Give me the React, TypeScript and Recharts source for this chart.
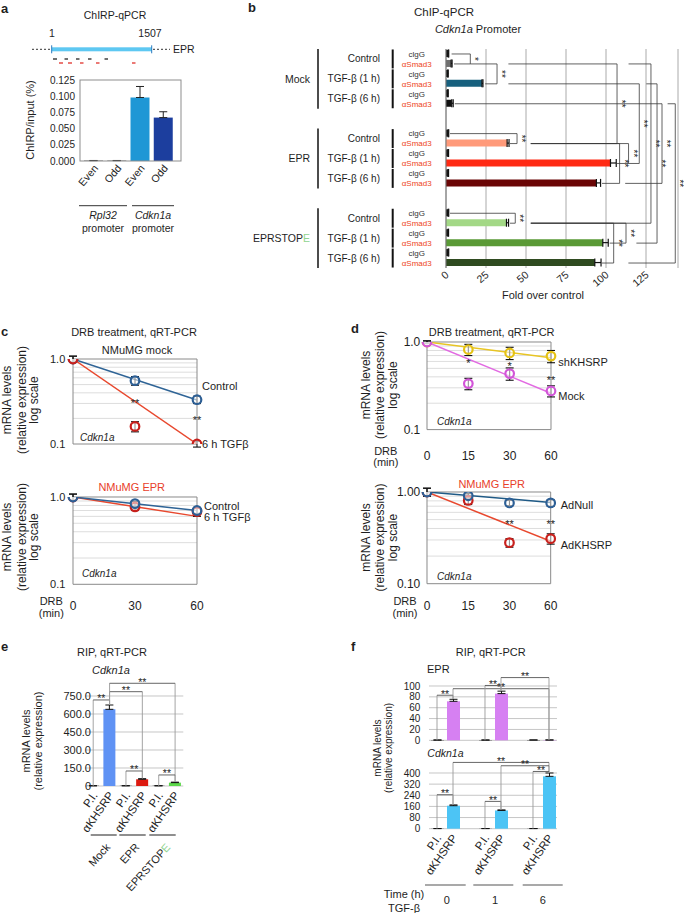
import React from "react";
import {
  Bar,
  BarChart,
  CartesianGrid,
  Cell,
  ComposedChart,
  ErrorBar,
  Line,
  ReferenceDot,
  ReferenceLine,
  XAxis,
  YAxis,
} from "recharts";

const FONT = '"Liberation Sans", Arial, Helvetica, sans-serif';
const INK = "#1e1e1e";

// ---------- a: ChIRP-qPCR ----------
const aIds = ["rplEven", "rplOdd", "cdkEven", "cdkOdd"];
const aLabels = ["Even", "Odd", "Even", "Odd"];
const aValues = [0.0005, 0.0005, 0.098, 0.067];
const aErrors = [0.0003, 0.0003, 0.017, 0.009];
const aColors = ["#222222", "#222222", "#1e97d5", "#1c3e9e"];
const aTicks = [0, 0.025, 0.05, 0.075, 0.1, 0.125];

// ---------- b: ChIP-qPCR, Cdkn1a promoter ----------
const bGroups = ["Mock", "EPR", "EPRSTOPE"];
const bConditions = ["Control", "TGF-β (1 h)", "TGF-β (6 h)"];
const bIgG = [1.3, 1.0, 1.0, 1.3, 1.2, 1.2, 1.3, 1.2, 1.3];
const bSmad3 = [3.2, 22.5, 3.6, 38.2, 102.8, 94.0, 37.8, 98.0, 93.0];
const bSmad3Err = [0.6, 0.6, 0.9, 1.2, 3.6, 2.6, 1.3, 3.4, 3.9];
const bSmad3Colors = [
  "#707070", "#17607e", "#111111",
  "#ff9a7a", "#ff2a14", "#6a0505",
  "#a3d886", "#5a9a36", "#2f4b20",
];
const bTicks = [0, 25, 50, 75, 100, 125];
// [row from, row to, x of vertical, x start on "from" row, x start on "to" row, label]
const bBrackets: [string, string, number, number, number, string][] = [
  ["00i", "00s", 15.2, 3.5, 5, "*"],
  ["00s", "01s", 31.9, 15.2, 24.5, "**"],
  ["00s", "10s", 106.9, 39, 53, "**"],
  ["00s", "20s", 128.1, 114.1, 53, "**"],
  ["01s", "11s", 120.8, 39, 114, "**"],
  ["01s", "21s", 131.9, 125.2, 119, "**"],
  ["02s", "12s", 135, 5.5, 112, "**"],
  ["02s", "22s", 143.3, 138.5, 114, "**"],
  ["10i", "10s", 44.4, 2.5, 40, "**"],
  ["10s", "11s", 114.1, 53, 106.9, "**"],
  ["10s", "12s", 108.5, 53, 97.5, "**"],
  ["20i", "20s", 43.3, 2.5, 40, "**"],
  ["20s", "21s", 112.5, 53, 102.3, "**"],
  ["20s", "22s", 104.8, 53, 97.5, "**"],
];

// ---------- c: DRB chase, NMuMG ----------
const cTimes = [0, 30, 60];
const cFitTimes = [0, 60];
const cMockControl = [1.0, 0.556, 0.332];
const cMockControlErr = [0.08, 0.065, 0.033];
const cMockTgf = [1.0, 0.161, 0.1];
const cMockTgfErr = [0.08, 0.022, 0.008];
const cMockFitControl = [1.0, 0.33];
const cMockFitTgf = [1.0, 0.1];
const cEprControl = [1.0, 0.84, 0.7];
const cEprControlErr = [0.08, 0.05, 0.05];
const cEprTgf = [1.0, 0.77, 0.68];
const cEprTgfErr = [0.08, 0.07, 0.08];
const cEprFitControl = [1.0, 0.7];
const cEprFitTgf = [1.0, 0.6];

// ---------- d: DRB chase, shKHSRP / AdKHSRP ----------
const dTimes = ["0", "15", "30", "60"];
const dIdx = [0, 1, 2, 3];
const dFitIdx = [0, 3];
const dShK = [1.0, 0.82, 0.75, 0.69];
const dShKErr = [0.03, 0.12, 0.12, 0.11];
const dMock = [1.0, 0.335, 0.436, 0.276];
const dMockErr = [0.03, 0.05, 0.07, 0.04];
const dFitShK = [1.0, 0.66];
const dFitMock = [1.0, 0.26];
const dAdNull = [1.0, 0.91, 0.76, 0.76];
const dAdNullErr = [0.1, 0.05, 0.05, 0.06];
const dAdK = [1.0, 0.81, 0.28, 0.31];
const dAdKErr = [0.1, 0.08, 0.03, 0.04];
const dFitAdNull = [1.0, 0.77];
const dFitAdK = [1.0, 0.29];

// ---------- e: RIP Cdkn1a ----------
const eIds = ["mPI", "mK", "ePI", "eK", "sPI", "sK"];
const eLabels = ["P.I.", "αKHSRP", "P.I.", "αKHSRP", "P.I.", "αKHSRP"];
const eValues = [2, 639, 2, 56, 2, 28];
const eErrors = [0, 36, 0, 5, 0, 4];
const eColors = ["#1a1a1a", "#5f92f4", "#1a1a1a", "#dd1a10", "#1a1a1a", "#5cd84a"];
const eTicks = [0, 150, 300, 450, 600, 750];
const eBrackets: [string, string, number, number, number][] = [
  ["mPI", "mK", 717, 0, 675],
  ["mK", "eK", 786, 675, 64],
  ["mK", "sK", 856, 675, 36],
  ["ePI", "eK", 125, 0, 62],
  ["sPI", "sK", 92, 0, 34],
];

// ---------- f: RIP time course ----------
const fIds = ["p0", "k0", "g1", "p1", "k1", "g2", "p6", "k6"];
const fLabels = ["P.I.", "αKHSRP", "", "P.I.", "αKHSRP", "", "P.I.", "αKHSRP"];
const fEprValues = [0.5, 71.8, null, 0.5, 86, null, 0.6, 0.6];
const fEprErrors = [0, 3.7, null, 0, 4.5, null, 0, 0];
const fCdkValues = [1, 165, null, 1, 131, null, 1, 376];
const fCdkErrors = [0, 6, null, 0, 4, null, 0, 24];
const fEprTicks = [0, 20, 40, 60, 80, 100];
const fCdkTicks = [0, 80, 160, 240, 320, 400];
const fEprBrackets: [string, string, number, number, number][] = [
  ["p0", "k0", 83, 0, 76],
  ["k0", "k6", 95, 76, 1],
  ["p1", "k1", 101, 0, 91],
  ["k1", "k6", 115.5, 91, 1],
];
const fCdkBrackets: [string, string, number, number, number][] = [
  ["p0", "k0", 244, 0, 171],
  ["k0", "k6", 476, 171, 402],
  ["p1", "k1", 196, 0, 136],
  ["k1", "k6", 452, 136, 402],
  ["p6", "k6", 411, 0, 402],
];

const logMinor = [0.2, 0.3, 0.4, 0.5, 0.6, 0.7, 0.8, 0.9];

// ---------- shared bits ----------
function angledTick(ids: string[], labels: string[], angle: number, fontSize: number, dx: number) {
  return (props: any) => {
    const { x, y, payload } = props;
    const i = ids.indexOf(String(payload.value));
    const text = i >= 0 ? labels[i] : "";
    return (
      <text
        transform={`translate(${x + dx},${y}) rotate(${angle})`}
        textAnchor="end"
        dominantBaseline="central"
        fontSize={fontSize}
        fill={INK}
      >
        {text}
      </text>
    );
  };
}

function numAngledTick(angle: number, fontSize: number) {
  return (props: any) => {
    const { x, y, payload } = props;
    return (
      <text
        transform={`translate(${x + 1},${y}) rotate(${angle})`}
        textAnchor="end"
        dominantBaseline="central"
        fontSize={fontSize}
        fill={INK}
      >
        {payload.value}
      </text>
    );
  };
}

function centerTick(labels: (v: number) => string, fontSize: number) {
  return (props: any) => {
    const { x, y, payload } = props;
    return (
      <text x={x} y={y} dy="0.35em" textAnchor="middle" fontSize={fontSize} fill={INK}>
        {labels(Number(payload.value))}
      </text>
    );
  };
}

// asterisks sit high in the glyph box, so baselines are pushed down a little
const sideStar = (text: string) => (props: any) => {
  const vb = props.viewBox || {};
  const x = (vb.x || 0) + (vb.width || 0) + 1;
  const y = (vb.y || 0) + (vb.height || 0) / 2;
  return (
    <text
      x={x}
      y={y}
      transform={`rotate(90 ${x} ${y})`}
      textAnchor="middle"
      fontSize={10}
      fill={INK}
    >
      {text}
    </text>
  );
};

const topStar = (text: string) => (props: any) => {
  const vb = props.viewBox || {};
  const x = (vb.x || 0) + (vb.width || 0) / 2;
  const y = (vb.y || 0) + 2.5;
  return (
    <text x={x} y={y} textAnchor="middle" fontSize={10.5} fill={INK}>
      {text}
    </text>
  );
};

const dotStar = (text: string) => (props: any) => {
  const vb = props.viewBox || {};
  const x = (vb.x || 0) + (vb.width || 0) / 2;
  const y = (vb.y || 0) + (vb.height || 0) / 2 + 6;
  return (
    <text x={x} y={y} textAnchor="middle" fontSize={11} fill={INK}>
      {text}
    </text>
  );
};

function topBrackets(prefix: string, list: [string, string, number, number, number][]) {
  return list.flatMap(([a, b, level, endA, endB], i) => [
    <ReferenceLine
      key={`${prefix}${i}a`}
      segment={[{ x: a, y: level }, { x: a, y: endA }]}
      stroke="#9a9a9a"
      strokeWidth={0.9}
      ifOverflow="visible"
    />,
    <ReferenceLine
      key={`${prefix}${i}b`}
      segment={[{ x: b, y: level }, { x: b, y: endB }]}
      stroke="#9a9a9a"
      strokeWidth={0.9}
      ifOverflow="visible"
    />,
    <ReferenceLine
      key={`${prefix}${i}h`}
      segment={[{ x: a, y: level }, { x: b, y: level }]}
      stroke="#555"
      strokeWidth={0.9}
      ifOverflow="visible"
      label={topStar("**")}
    />,
  ]);
}

const ringDot = (color: string, name: string) => (p: any) => {
  if (p.cx == null || p.cy == null || p.value == null) return <g key={`${name}${p.index}`} />;
  return (
    <circle
      key={`${name}${p.index}`}
      cx={p.cx}
      cy={p.cy}
      r={4.3}
      fill="rgba(255,255,255,0.55)"
      stroke={color}
      strokeWidth={2.2}
    />
  );
};

// ---------- panel a ----------
const A_PLOT = { x: 80, y: 80, w: 101, h: 81 };

function PanelA() {
  const data = aIds.map((id, i) => ({ id, v: aValues[i], err: [0, aErrors[i]] }));
  const yw = 60, mt = 10, mr = 3, xh = 45;
  return (
    <div style={{ position: "absolute", left: A_PLOT.x - yw, top: A_PLOT.y - mt }}>
      <BarChart
        width={yw + A_PLOT.w + mr}
        height={mt + A_PLOT.h + xh}
        data={data}
        margin={{ top: mt, right: mr, bottom: 0, left: 0 }}
      >
        <XAxis
          dataKey="id"
          interval={0}
          padding={{ left: 2, right: 6 }}
          height={xh}
          axisLine={false}
          tickLine={false}
          tickSize={0}
          tickMargin={5}
          tick={angledTick(aIds, aLabels, -50, 10.5, 2)}
        />
        <YAxis
          type="number"
          domain={[0, 0.125]}
          ticks={aTicks}
          interval={0}
          tickFormatter={(v: number) => v.toFixed(3)}
          width={yw}
          axisLine={false}
          tickLine={false}
          tickSize={0}
          tickMargin={5}
          tick={{ fontSize: 10, fill: INK }}
        />
        <Bar dataKey="v" barSize={19} isAnimationActive={false}>
          {data.map((d, i) => (
            <Cell key={d.id} fill={aColors[i]} />
          ))}
          <ErrorBar dataKey="err" width={4} stroke="#222" strokeWidth={1} direction="y" />
        </Bar>
      </BarChart>
    </div>
  );
}

// ---------- panel b ----------
const bRows = bGroups.flatMap((_, g) => {
  const rows: { id: string; v: number | null; err: number[] | null; color: string }[] = [];
  bConditions.forEach((__, c) => {
    const k = g * 3 + c;
    rows.push({ id: `${g}${c}i`, v: bIgG[k], err: [0, 0.4], color: "#1a1a1a" });
    rows.push({ id: `${g}${c}s`, v: bSmad3[k], err: [0, bSmad3Err[k]], color: bSmad3Colors[k] });
  });
  if (g < bGroups.length - 1) {
    rows.push({ id: `gap${g}a`, v: null, err: null, color: "none" });
    rows.push({ id: `gap${g}b`, v: null, err: null, color: "none" });
  }
  return rows;
});

const B_PLOT = { x: 446, y: 49, w: 232, h: 219 };

function SmadTick(props: any) {
  const { x, y, payload } = props;
  const id = String(payload.value);
  if (id.startsWith("gap")) return <g />;
  const smad = id.endsWith("s");
  return (
    <text
      x={x - 29.3}
      y={y}
      dy="0.35em"
      textAnchor="middle"
      fontSize={8}
      fill={smad ? "#ee4422" : "#333"}
    >
      {smad ? "αSmad3" : "clgG"}
    </text>
  );
}

function PanelB() {
  const yw = 66, mt = 9, mr = 6, xh = 30;
  const segs = bBrackets.flatMap(([r1, r2, xv, x1, x2, label], i) => [
    <ReferenceLine
      key={`bt${i}`}
      segment={[{ x: x1, y: r1 }, { x: xv, y: r1 }]}
      stroke="#3a3a3a"
      strokeWidth={0.8}
      ifOverflow="visible"
    />,
    <ReferenceLine
      key={`bv${i}`}
      segment={[{ x: xv, y: r1 }, { x: xv, y: r2 }]}
      stroke="#3a3a3a"
      strokeWidth={0.8}
      ifOverflow="visible"
      label={sideStar(label)}
    />,
    <ReferenceLine
      key={`bb${i}`}
      segment={[{ x: x2, y: r2 }, { x: xv, y: r2 }]}
      stroke="#3a3a3a"
      strokeWidth={0.8}
      ifOverflow="visible"
    />,
  ]);
  return (
    <div style={{ position: "absolute", left: B_PLOT.x - yw, top: B_PLOT.y - mt }}>
      <BarChart
        layout="vertical"
        width={yw + B_PLOT.w + mr}
        height={mt + B_PLOT.h + xh}
        data={bRows}
        margin={{ top: mt, right: mr, bottom: 0, left: 0 }}
      >
        <CartesianGrid horizontal={false} stroke="#a0a0a0" strokeWidth={0.9} />
        <XAxis
          type="number"
          domain={[0, 145]}
          ticks={bTicks}
          interval={0}
          height={xh}
          axisLine={false}
          tickLine={false}
          tickSize={0}
          tickMargin={5}
          tick={numAngledTick(-40, 10.5)}
        />
        <YAxis
          type="category"
          dataKey="id"
          width={yw}
          interval={0}
          axisLine={{ stroke: "#777" }}
          tickLine={false}
          tickSize={0}
          tickMargin={0}
          tick={(p: any) => <SmadTick {...p} />}
        />
        <Bar dataKey="v" barSize={7} isAnimationActive={false}>
          {bRows.map((r) => (
            <Cell key={r.id} fill={r.color} />
          ))}
          <ErrorBar dataKey="err" width={4} stroke="#111" strokeWidth={1.2} direction="x" />
        </Bar>
        {segs}
      </BarChart>
    </div>
  );
}

// ---------- panels c & d ----------
type PointSeries = { key: string; errKey: string; color: string };
type FitSeries = { data: Record<string, number>[]; key: string; color: string };
type Star = { x: number; y: number; text: string };

function DecayChart(props: {
  plot: [number, number, number, number];
  rows: Record<string, number>[];
  points: PointSeries[];
  fits: FitSeries[];
  stars: Star[];
  xMax: number;
  xTicks: number[];
  xLabel?: (v: number) => string;
  xTickMargin?: number;
  yDigits: number;
  yTickMargin: number;
  yFont: number;
}) {
  const [px, py, pw, ph] = props.plot;
  const yw = 50, mt = 8, mr = 8;
  const xh = props.xLabel ? 34 : 0;
  const mb = props.xLabel ? 0 : 8;
  return (
    <div style={{ position: "absolute", left: px - yw, top: py - mt }}>
      <ComposedChart
        width={yw + pw + mr}
        height={mt + ph + xh + mb}
        data={props.rows}
        margin={{ top: mt, right: mr, bottom: mb, left: 0 }}
      >
        <XAxis
          type="number"
          dataKey="t"
          domain={[0, props.xMax]}
          ticks={props.xTicks}
          interval={0}
          hide={!props.xLabel}
          height={xh}
          axisLine={false}
          tickLine={false}
          tickSize={0}
          tickMargin={props.xTickMargin ?? 20}
          tick={props.xLabel ? centerTick(props.xLabel, 12) : false}
        />
        <YAxis
          type="number"
          scale="log"
          domain={[0.1, 1]}
          allowDataOverflow
          ticks={[0.1, 1]}
          interval={0}
          tickFormatter={(v: number) => v.toFixed(props.yDigits)}
          width={yw}
          axisLine={false}
          tickLine={false}
          tickSize={0}
          tickMargin={props.yTickMargin}
          tick={{ fontSize: props.yFont, fill: INK }}
        />
        {logMinor.map((v) => (
          <ReferenceLine key={`m${v}`} y={v} stroke="#d4d4d4" strokeWidth={0.8} />
        ))}
        <ReferenceLine y={1} stroke="#8a8a8a" strokeWidth={1} />
        <ReferenceLine y={0.1} stroke="#8a8a8a" strokeWidth={1} />
        <ReferenceLine x={0} stroke="#8a8a8a" strokeWidth={1} />
        <ReferenceLine x={props.xMax} stroke="#8a8a8a" strokeWidth={1} />
        {props.fits.map((f) => (
          <Line
            key={`fit-${f.key}`}
            data={f.data}
            dataKey={f.key}
            type="linear"
            stroke={f.color}
            strokeWidth={1.5}
            dot={false}
            activeDot={false}
            isAnimationActive={false}
          />
        ))}
        {props.points.map((s) => (
          <Line
            key={`pt-${s.key}`}
            dataKey={s.key}
            stroke="none"
            dot={ringDot(s.color, s.key)}
            activeDot={false}
            isAnimationActive={false}
          >
            <ErrorBar dataKey={s.errKey} direction="y" width={4} stroke="#111" strokeWidth={1.1} />
          </Line>
        ))}
        {props.stars.map((s, i) => (
          <ReferenceDot
            key={`st${i}`}
            x={s.x}
            y={s.y}
            r={0}
            fill="none"
            stroke="none"
            ifOverflow="visible"
            label={dotStar(s.text)}
          />
        ))}
      </ComposedChart>
    </div>
  );
}

// ---------- panel e ----------
const E_PLOT = { x: 85, y: 696, w: 98.3, h: 90 };

function PanelE() {
  const data = eIds.map((id, i) => ({ id, v: eValues[i], err: [0, eErrors[i]] }));
  const yw = 55, mt = 26, mr = 2, xh = 50;
  return (
    <div style={{ position: "absolute", left: E_PLOT.x - yw, top: E_PLOT.y - mt }}>
      <BarChart
        width={yw + E_PLOT.w + mr}
        height={mt + E_PLOT.h + xh}
        data={data}
        margin={{ top: mt, right: mr, bottom: 0, left: 0 }}
      >
        <CartesianGrid vertical={false} stroke="#c6c6c6" strokeWidth={1} />
        <XAxis
          dataKey="id"
          interval={0}
          height={xh}
          axisLine={false}
          tickLine={false}
          tickSize={0}
          tickMargin={7}
          tick={angledTick(eIds, eLabels, -55, 11.5, 1.5)}
        />
        <YAxis
          type="number"
          domain={[0, 750]}
          ticks={eTicks}
          interval={0}
          tickFormatter={(v: number) => (v === 0 ? "0" : v.toFixed(1))}
          width={yw}
          axisLine={false}
          tickLine={false}
          tickSize={0}
          tickMargin={-6}
          tick={{ fontSize: 11, fill: INK }}
        />
        <Bar dataKey="v" barSize={12} isAnimationActive={false}>
          {data.map((d, i) => (
            <Cell key={d.id} fill={eColors[i]} />
          ))}
          <ErrorBar dataKey="err" width={4} stroke="#111" strokeWidth={1} direction="y" />
        </Bar>
        {topBrackets("e", eBrackets)}
      </BarChart>
    </div>
  );
}

// ---------- panel f ----------
const F_X = 428.7;
const F_W = 128;

function PanelFChart(props: {
  top: number;
  h: number;
  values: (number | null)[];
  errors: (number | null)[];
  ticks: number[];
  color: string;
  brackets: [string, string, number, number, number][];
  showX: boolean;
  prefix: string;
}) {
  const data = fIds.map((id, i) => ({
    id,
    v: props.values[i],
    err: props.errors[i] == null ? null : [0, props.errors[i] as number],
  }));
  const yw = 40, mt = 24, mr = 5;
  const xh = props.showX ? 60 : 0;
  const mb = props.showX ? 0 : 10;
  const max = props.ticks[props.ticks.length - 1];
  return (
    <div style={{ position: "absolute", left: F_X - yw, top: props.top - mt }}>
      <BarChart
        width={yw + F_W + mr}
        height={mt + props.h + xh + mb}
        data={data}
        margin={{ top: mt, right: mr, bottom: mb, left: 0 }}
      >
        <CartesianGrid vertical={false} stroke="#c6c6c6" strokeWidth={1} />
        <XAxis
          dataKey="id"
          interval={0}
          hide={!props.showX}
          height={xh}
          axisLine={false}
          tickLine={false}
          tickSize={0}
          tickMargin={7}
          tick={angledTick(fIds, fLabels, -55, 11.5, 1.5)}
        />
        <YAxis
          type="number"
          domain={[0, max]}
          ticks={props.ticks}
          interval={0}
          width={yw}
          axisLine={false}
          tickLine={false}
          tickSize={0}
          tickMargin={8.7}
          tick={{ fontSize: 10, fill: INK }}
        />
        <Bar dataKey="v" barSize={13} isAnimationActive={false}>
          {data.map((d) => (
            <Cell key={d.id} fill={d.id.startsWith("p") ? "#1a1a1a" : props.color} />
          ))}
          <ErrorBar dataKey="err" width={4} stroke="#111" strokeWidth={1} direction="y" />
        </Bar>
        {topBrackets(props.prefix, props.brackets)}
      </BarChart>
    </div>
  );
}

// ---------- static labels ----------
function VText(props: { x: number; y: number; size: number; children: React.ReactNode }) {
  return (
    <text
      transform={`translate(${props.x},${props.y}) rotate(-90)`}
      textAnchor="middle"
      dominantBaseline="central"
      fontSize={props.size}
      fill={INK}
    >
      {props.children}
    </text>
  );
}

function YLabel3(props: { xs: number[]; y: number; size: number }) {
  const lines = ["mRNA levels", "(relative expression)", "log scale"];
  return (
    <g>
      {lines.map((l, i) => (
        <VText key={l} x={props.xs[i]} y={props.y} size={props.size}>
          {l}
        </VText>
      ))}
    </g>
  );
}

const aProbeEven = [[53, 57], [64.5, 68], [76, 79.5], [88, 91.5], [104.5, 108]];
const aProbeOdd = [[59, 63], [68, 72], [80, 83.5], [96, 99.5], [132, 135.5]];

function Overlay() {
  const band = B_PLOT.h / bRows.length;
  const rowY = (id: string) => B_PLOT.y + band * (bRows.findIndex((r) => r.id === id) + 0.5);
  const green = "#8fd48f";
  return (
    <svg
      width={684}
      height={913}
      style={{ position: "absolute", left: 0, top: 0, pointerEvents: "none" }}
      fontFamily={FONT}
      fill={INK}
    >
      {/* a */}
      <text x={1} y={12.5} fontSize={13} fontWeight="bold">a</text>
      <text x={115} y={19} fontSize={10.5} textAnchor="middle">ChIRP-qPCR</text>
      <text x={52} y={37} fontSize={10.5} textAnchor="middle">1</text>
      <text x={150} y={37} fontSize={10.5} textAnchor="middle">1507</text>
      <line x1={32} y1={49.3} x2={51} y2={49.3} stroke="#333" strokeDasharray="2 2" />
      <line x1={153} y1={49.3} x2={170} y2={49.3} stroke="#333" strokeDasharray="2 2" />
      <rect x={51.7} y={47.3} width={100} height={4} fill="#5ec8f2" />
      <line x1={51.7} y1={45.3} x2={51.7} y2={53.3} stroke="#2a7bbf" />
      <line x1={151.7} y1={45.3} x2={151.7} y2={53.3} stroke="#2a7bbf" />
      <text x={173} y={53} fontSize={10.5}>EPR</text>
      {aProbeEven.map(([x1, x2]) => (
        <line key={`pe${x1}`} x1={x1} y1={59} x2={x2} y2={59} stroke="#222" strokeWidth={1.3} />
      ))}
      {aProbeOdd.map(([x1, x2]) => (
        <line key={`po${x1}`} x1={x1} y1={63} x2={x2} y2={63} stroke="#e0302a" strokeWidth={1.3} />
      ))}
      <rect x={A_PLOT.x} y={A_PLOT.y} width={A_PLOT.w} height={A_PLOT.h} fill="none" stroke="#8d8d8d" />
      <VText x={30} y={120} size={11}>ChIRP/input (%)</VText>
      <line x1={79} y1={205.7} x2={127} y2={205.7} stroke="#333" />
      <line x1={132} y1={205.7} x2={174} y2={205.7} stroke="#333" />
      <text x={103} y={219} fontSize={10.5} textAnchor="middle" fontStyle="italic">Rpl32</text>
      <text x={103} y={231.5} fontSize={10.5} textAnchor="middle">promoter</text>
      <text x={153} y={219} fontSize={10.5} textAnchor="middle" fontStyle="italic">Cdkn1a</text>
      <text x={153} y={231.5} fontSize={10.5} textAnchor="middle">promoter</text>

      {/* b */}
      <text x={248} y={11.7} fontSize={13} fontWeight="bold">b</text>
      <text x={444} y={15.5} fontSize={11.5} textAnchor="middle">ChIP-qPCR</text>
      <text x={478} y={33} fontSize={11} textAnchor="middle">
        <tspan fontStyle="italic">Cdkn1a</tspan> Promoter
      </text>
      {bGroups.map((g, gi) => {
        const top = rowY(`${gi}0i`) - 5;
        const bot = rowY(`${gi}2s`) + 5;
        return (
          <g key={g}>
            <line x1={318} y1={top} x2={318} y2={bot} stroke="#111" strokeWidth={1.5} />
            <text x={310} y={(top + bot) / 2} dy="0.35em" fontSize={10.5} textAnchor="end">
              {g === "EPRSTOPE" ? (
                <>
                  EPRSTOP<tspan fill={green}>E</tspan>
                </>
              ) : (
                g
              )}
            </text>
            {bConditions.map((c, ci) => {
              const t = rowY(`${gi}${ci}i`) - 4.5;
              const b = rowY(`${gi}${ci}s`) + 4.5;
              return (
                <g key={c}>
                  <line x1={392.7} y1={t} x2={392.7} y2={b} stroke="#111" strokeWidth={2} />
                  <text x={380} y={(t + b) / 2} dy="0.35em" fontSize={10} textAnchor="end">
                    {c}
                  </text>
                </g>
              );
            })}
          </g>
        );
      })}
      <text x={543} y={299} fontSize={11} textAnchor="middle">Fold over control</text>

      {/* c */}
      <text x={1} y={336} fontSize={13} fontWeight="bold">c</text>
      <text x={134} y={335.5} fontSize={11} textAnchor="middle">DRB treatment, qRT-PCR</text>
      <text x={137} y={353.5} fontSize={11} textAnchor="middle">NMuMG mock</text>
      <YLabel3 xs={[6.7, 21.7, 34]} y={400} size={12} />
      <text x={80} y={441} fontSize={10} fontStyle="italic">Cdkn1a</text>
      <text x={202} y={389.5} fontSize={11}>Control</text>
      <text x={202} y={448} fontSize={11}>6 h TGFβ</text>
      <text x={131.7} y={491} fontSize={11} textAnchor="middle" fill="#e8402a">NMuMG EPR</text>
      <YLabel3 xs={[6.7, 21.7, 34]} y={537} size={12} />
      <text x={82} y={577} fontSize={10} fontStyle="italic">Cdkn1a</text>
      <text x={204} y={509.5} fontSize={11}>Control</text>
      <text x={204} y={521} fontSize={11}>6 h TGFβ</text>
      <text x={51.3} y={604.5} fontSize={11} textAnchor="middle">DRB</text>
      <text x={51.3} y={617} fontSize={11} textAnchor="middle">(min)</text>

      {/* d */}
      <text x={351} y={333} fontSize={13} fontWeight="bold">d</text>
      <text x={491.7} y={335.5} fontSize={11} textAnchor="middle">DRB treatment, qRT-PCR</text>
      <YLabel3 xs={[365.8, 380, 393]} y={385} size={12} />
      <text x={437} y={424.5} fontSize={10} fontStyle="italic">Cdkn1a</text>
      <text x={558.3} y={366} fontSize={11}>shKHSRP</text>
      <text x={558.3} y={400} fontSize={11}>Mock</text>
      <text x={385.8} y={454.5} fontSize={11} textAnchor="middle">DRB</text>
      <text x={385.8} y={466} fontSize={11} textAnchor="middle">(min)</text>
      <text x={491.7} y={487.5} fontSize={11} textAnchor="middle" fill="#e8402a">NMuMG EPR</text>
      <YLabel3 xs={[365.8, 380, 393]} y={537.5} size={12} />
      <text x={437} y={580} fontSize={10} fontStyle="italic">Cdkn1a</text>
      <text x={560.7} y={508.5} fontSize={11}>AdNull</text>
      <text x={560.7} y={549} fontSize={11}>AdKHSRP</text>
      <text x={405} y={604.5} fontSize={11} textAnchor="middle">DRB</text>
      <text x={405} y={617} fontSize={11} textAnchor="middle">(min)</text>

      {/* e */}
      <text x={1} y={651} fontSize={13} fontWeight="bold">e</text>
      <text x={112} y={656} fontSize={11} textAnchor="middle">RIP, qRT-PCR</text>
      <text x={111} y={674} fontSize={11} textAnchor="middle" fontStyle="italic">Cdkn1a</text>
      <VText x={25.8} y={741} size={11}>mRNA levels</VText>
      <VText x={37.5} y={741} size={11}>(relative expression)</VText>
      <line x1={90.7} y1={835} x2={116.7} y2={835} stroke="#6a6a6a" strokeWidth={1.5} />
      <line x1={119.3} y1={835} x2={145.7} y2={835} stroke="#6a6a6a" strokeWidth={1.5} />
      <line x1={149.3} y1={835} x2={175.7} y2={835} stroke="#6a6a6a" strokeWidth={1.5} />
      {[
        { x: 108, label: "Mock" },
        { x: 137, label: "EPR" },
        { x: 168, label: "EPRSTOPE" },
      ].map((g) => (
        <text
          key={g.label}
          transform={`translate(${g.x},845) rotate(-48)`}
          textAnchor="end"
          dominantBaseline="central"
          fontSize={11}
        >
          {g.label === "EPRSTOPE" ? (
            <>
              EPRSTOP<tspan fill={green}>E</tspan>
            </>
          ) : (
            g.label
          )}
        </text>
      ))}

      {/* f */}
      <text x={351} y={651} fontSize={13} fontWeight="bold">f</text>
      <text x={490.8} y={656} fontSize={11} textAnchor="middle">RIP, qRT-PCR</text>
      <text x={427} y={673} fontSize={11}>EPR</text>
      <text x={427.3} y={757} fontSize={10.5} fontStyle="italic">Cdkn1a</text>
      <VText x={377.5} y={748} size={10}>mRNA levels</VText>
      <VText x={388.3} y={748} size={10}>(relative expression)</VText>
      <line x1={425} y1={885} x2={465.7} y2={885} stroke="#555" strokeWidth={1.2} />
      <line x1={473.3} y1={885} x2={513.3} y2={885} stroke="#555" strokeWidth={1.2} />
      <line x1={522.7} y1={885} x2={562.7} y2={885} stroke="#555" strokeWidth={1.2} />
      <text x={404} y={897.5} fontSize={11} textAnchor="middle">Time (h)</text>
      <text x={404} y={911.5} fontSize={11} textAnchor="middle">TGF-β</text>
      <text x={446.7} y={904} fontSize={11} textAnchor="middle">0</text>
      <text x={495} y={904} fontSize={11} textAnchor="middle">1</text>
      <text x={542.7} y={904} fontSize={11} textAnchor="middle">6</text>
    </svg>
  );
}

export default function App() {
  const cMockRows = cTimes.map((t, i) => ({
    t,
    ctrl: cMockControl[i],
    ctrlErr: cMockControlErr[i],
    tgf: cMockTgf[i],
    tgfErr: cMockTgfErr[i],
  }));
  const cMockFits = cFitTimes.map((t, i) => ({ t, fc: cMockFitControl[i], ft: cMockFitTgf[i] }));
  const cEprRows = cTimes.map((t, i) => ({
    t,
    ctrl: cEprControl[i],
    ctrlErr: cEprControlErr[i],
    tgf: cEprTgf[i],
    tgfErr: cEprTgfErr[i],
  }));
  const cEprFits = cFitTimes.map((t, i) => ({ t, fc: cEprFitControl[i], ft: cEprFitTgf[i] }));
  const dTopRows = dIdx.map((t, i) => ({
    t,
    sh: dShK[i],
    shErr: dShKErr[i],
    mock: dMock[i],
    mockErr: dMockErr[i],
  }));
  const dTopFits = dFitIdx.map((t, i) => ({ t, fs: dFitShK[i], fm: dFitMock[i] }));
  const dBotRows = dIdx.map((t, i) => ({
    t,
    nul: dAdNull[i],
    nulErr: dAdNullErr[i],
    k: dAdK[i],
    kErr: dAdKErr[i],
  }));
  const dBotFits = dFitIdx.map((t, i) => ({ t, fn: dFitAdNull[i], fk: dFitAdK[i] }));

  const blue = "#2d5f95";
  const blueLine = "#2f6496";
  const red = "#c8201c";
  const redLine = "#e8482e";

  return (
    <div
      style={{
        position: "absolute",
        left: 0,
        top: 0,
        width: 684,
        height: 913,
        background: "#fff",
        fontFamily: FONT,
        color: INK,
        overflow: "hidden",
      }}
    >
      <PanelA />
      <PanelB />
      <DecayChart
        plot={[72.7, 359.3, 124, 85]}
        rows={cMockRows}
        points={[
          { key: "ctrl", errKey: "ctrlErr", color: blue },
          { key: "tgf", errKey: "tgfErr", color: red },
        ]}
        fits={[
          { data: cMockFits, key: "fc", color: blueLine },
          { data: cMockFits, key: "ft", color: redLine },
        ]}
        stars={[
          { x: 30, y: 0.317, text: "**" },
          { x: 60, y: 0.202, text: "**" },
        ]}
        xMax={60}
        xTicks={cTimes}
        yDigits={1}
        yTickMargin={7.7}
        yFont={11}
      />
      <DecayChart
        plot={[72.7, 496.7, 124, 87.3]}
        rows={cEprRows}
        points={[
          { key: "tgf", errKey: "tgfErr", color: red },
          { key: "ctrl", errKey: "ctrlErr", color: blue },
        ]}
        fits={[
          { data: cEprFits, key: "ft", color: redLine },
          { data: cEprFits, key: "fc", color: blueLine },
        ]}
        stars={[]}
        xMax={60}
        xTicks={cTimes}
        xLabel={(v) => String(v)}
        xTickMargin={22}
        yDigits={1}
        yTickMargin={7.7}
        yFont={11}
      />
      <DecayChart
        plot={[426.7, 341.7, 124, 87.6]}
        rows={dTopRows}
        points={[
          { key: "sh", errKey: "shErr", color: "#e5c214" },
          { key: "mock", errKey: "mockErr", color: "#d255d8" },
        ]}
        fits={[
          { data: dTopFits, key: "fs", color: "#e8c524" },
          { data: dTopFits, key: "fm", color: "#e26ae2" },
        ]}
        stars={[
          { x: 1, y: 0.607, text: "*" },
          { x: 2, y: 0.567, text: "*" },
          { x: 3, y: 0.388, text: "**" },
        ]}
        xMax={3}
        xTicks={dIdx}
        xLabel={(v) => dTimes[v] ?? ""}
        xTickMargin={26.7}
        yDigits={1}
        yTickMargin={6.7}
        yFont={12}
      />
      <DecayChart
        plot={[427, 492.3, 123.7, 91.7]}
        rows={dBotRows}
        points={[
          { key: "k", errKey: "kErr", color: red },
          { key: "nul", errKey: "nulErr", color: blue },
        ]}
        fits={[
          { data: dBotFits, key: "fk", color: redLine },
          { data: dBotFits, key: "fn", color: "#1f5a86" },
        ]}
        stars={[
          { x: 2, y: 0.471, text: "**" },
          { x: 3, y: 0.471, text: "**" },
        ]}
        xMax={3}
        xTicks={dIdx}
        xLabel={(v) => dTimes[v] ?? ""}
        xTickMargin={22}
        yDigits={2}
        yTickMargin={6.7}
        yFont={12}
      />
      <PanelE />
      <PanelFChart
        top={685.7}
        h={54.3}
        values={fEprValues}
        errors={fEprErrors}
        ticks={fEprTicks}
        color="#d680f2"
        brackets={fEprBrackets}
        showX={false}
        prefix="fe"
      />
      <PanelFChart
        top={773.3}
        h={55.7}
        values={fCdkValues}
        errors={fCdkErrors}
        ticks={fCdkTicks}
        color="#4cc4f5"
        brackets={fCdkBrackets}
        showX
        prefix="fc"
      />
      <Overlay />
    </div>
  );
}
